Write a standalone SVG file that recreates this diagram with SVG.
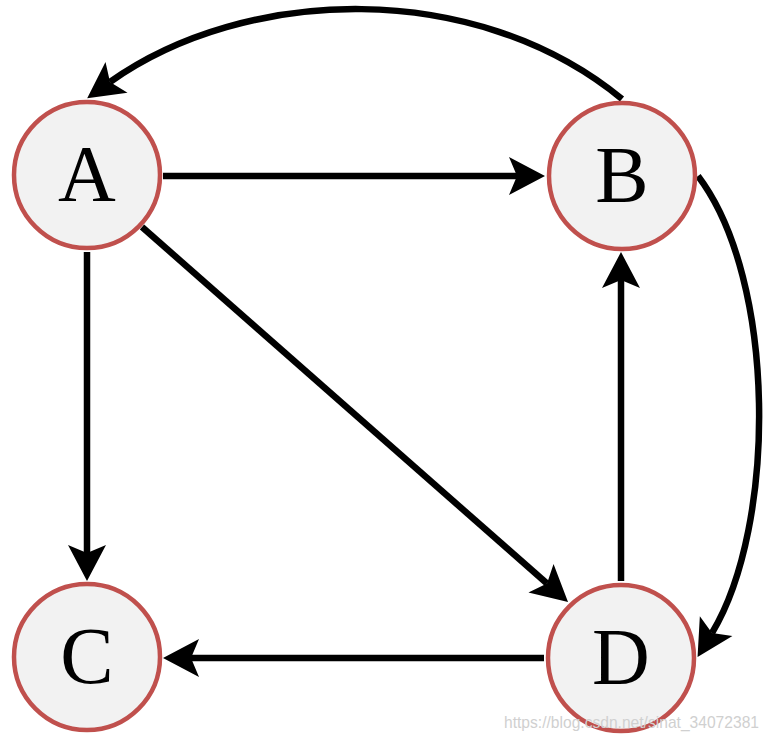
<svg xmlns="http://www.w3.org/2000/svg" width="771" height="741" viewBox="0 0 771 741">
<style>
.edge{fill:none;stroke:#000;stroke-width:6.5;marker-end:url(#arr)}
.node circle{fill:#f2f2f2;stroke:#c0504d;stroke-width:4.5}
.node text{font-family:"Liberation Serif","Times New Roman",serif;font-size:80px;fill:#000;text-anchor:middle}
.wm{font-family:"Liberation Sans",Arial,sans-serif;font-size:17px;fill:#d0d0d0}
</style>
<defs>
<marker id="arr" markerUnits="userSpaceOnUse" markerWidth="36" markerHeight="38" refX="8" refY="19" orient="auto" overflow="visible">
<polygon points="36,19 0,0 8,19 0,38" fill="#000"/>
</marker>
</defs>
<rect width="771" height="741" fill="#fff"/>
<g id="connectors">
<path class="edge" d="M163,176 L517,176"/>
<path class="edge" d="M87,252 L87,553"/>
<path class="edge" d="M142,227 L547,583.5"/>
<path class="edge" d="M621,581 L621,280"/>
<path class="edge" d="M544,658 L191,658"/>
<path class="edge" d="M622,99 C475,-22 245,-14 110,82"/>
<path class="edge" d="M698,176 C777,280 777,525 712,633"/>
</g>
<g id="A" class="node"><circle cx="87" cy="175" r="73"/><text x="87" y="201">A</text></g>
<g id="B" class="node"><circle cx="622" cy="176" r="73"/><text x="622" y="202">B</text></g>
<g id="C" class="node"><circle cx="87" cy="657" r="73"/><text x="87" y="683">C</text></g>
<g id="D" class="node"><circle cx="621" cy="658" r="73"/><text x="621" y="684">D</text></g>
<text class="wm" x="504" y="728" textLength="255" lengthAdjust="spacingAndGlyphs">https://blog.csdn.net/sinat_34072381</text>
</svg>
